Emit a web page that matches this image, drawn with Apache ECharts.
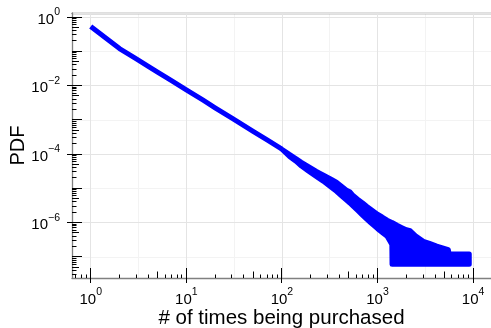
<!DOCTYPE html>
<html><head><meta charset="utf-8">
<script src="https://cdn.jsdelivr.net/npm/echarts@6/dist/echarts.min.js"></script>
<style>html,body{margin:0;padding:0;background:#fff}#c{width:491px;height:328px}</style>
</head><body><div id="c"></div>
<script>
// ---- data ----
// smooth head of the distribution
const headX   = [1, 2, 3, 4, 5, 7, 10, 15, 20, 30, 50, 70, 100];
const headPDF = [0.525, 0.120, 0.0603, 0.0363, 0.0245, 0.0138, 0.00741, 0.00372, 0.00224, 0.00112, 4.57e-4, 2.57e-4, 1.38e-4];
// noisy tail: upper and lower envelope of the scattered PDF values
const bandX  = [100, 120, 140, 160, 190, 230, 270, 320, 372, 420,
  470, 513, 560, 620, 700, 776, 850, 1000, 1120, 1260,
  1413, 1420, 1600, 1800, 2000, 2200, 2500, 3020, 3500, 4170,
  5500, 5620, 9120];
const bandHi = [1.38e-4, 9.77e-5, 7.41e-5, 5.75e-5, 4.27e-5, 3.09e-5, 2.45e-5, 1.91e-5, 1.51e-5, 1.15e-5,
  8.91e-6, 7.94e-6, 6.03e-6, 4.79e-6, 3.72e-6, 2.95e-6, 2.45e-6, 1.74e-6, 1.45e-6, 1.17e-6,
  1.0e-6, 1.0e-6, 8.32e-7, 7.08e-7, 6.17e-7, 5.75e-7, 4.07e-7, 2.82e-7, 2.45e-7, 2.04e-7,
  1.62e-7, 1.2e-7, 1.2e-7];
const bandLo = [1.38e-4, 8.51e-5, 6.17e-5, 4.47e-5, 3.16e-5, 2.19e-5, 1.62e-5, 1.12e-5, 8.13e-6, 6.03e-6,
  4.57e-6, 3.72e-6, 2.95e-6, 2.24e-6, 1.62e-6, 1.23e-6, 9.77e-7, 6.61e-7, 5.13e-7, 3.98e-7,
  2.29e-7, 6.0e-8, 6.0e-8, 6.0e-8, 6.0e-8, 6.0e-8, 6.0e-8, 6.0e-8, 6.0e-8, 6.0e-8,
  6.0e-8, 6.0e-8, 6.0e-8];
const xTitle = '# of times being purchased';
const yTitle = 'PDF';
const xTickExps = [0, 1, 2, 3, 4];
const yTickExps = [0, -1, -2, -3, -4, -5, -6, -7];
const minorDigits = [2, 3, 4, 5, 6, 7, 8, 9];

// ---- axis ranges ----
const X_MIN = 0.637, X_MAX = 15400;
const Y_MIN = 2.4e-8, Y_MAX = 1.31;
const FONT = 'Liberation Sans';
const BLUE = '#0000ff';

const lineData = headX.map((x, i) => [x, headPDF[i]]);
const bandData = bandX.map((x, i) => [x, bandHi[i], bandLo[i]]);

// tick marks: [x, y, lenIn, lenOut]
const xTicks = [];
xTickExps.forEach(e => xTicks.push([Math.pow(10, e), 1, 10, 5]));
for (let e = -1; e <= 4; e++) minorDigits.forEach(d => {
  const v = d * Math.pow(10, e);
  if (v > X_MIN && v < X_MAX) xTicks.push([v, 1, d === 5 ? 6.5 : 3.5, 0]);
});
const yTicks = [];
yTickExps.forEach(e => yTicks.push([1, Math.pow(10, e), 10, e % 2 === 0 ? 5 : 0]));
for (let e = -8; e <= 0; e++) minorDigits.forEach(d => {
  const v = d * Math.pow(10, e);
  if (v > Y_MIN && v < Y_MAX) yTicks.push([1, v, d === 5 ? 7 : 4.5, 0]);
});

function supLabel(v) {
  const l = Math.log10(v), n = Math.round(l);
  if (Math.abs(l - n) > 1e-6) return '';
  return '{b|10}{s|' + String(n).replace('-', '\u2212') + '}';
}
const rich = {
  b: { fontSize: 15, fontFamily: FONT, color: '#000', verticalAlign: 'bottom', lineHeight: 20 },
  s: { fontSize: 10.5, fontFamily: FONT, color: '#000', verticalAlign: 'top', lineHeight: 20 }
};
const frame = { show: true, lineStyle: { color: '#808080', width: 1.3 } };

const chart = echarts.init(document.getElementById('c'), null, { renderer: 'canvas' });
chart.setOption({
  animation: false,
  backgroundColor: '#fff',
  grid: { left: 72, right: 0, top: 13, bottom: 50, containLabel: false, outerBoundsMode: 'none' },
  xAxis: [
    { type: 'log', logBase: 10, min: X_MIN, max: X_MAX, position: 'bottom', z: 1,
      axisLine: frame, axisTick: { show: false },
      splitLine: { show: true, lineStyle: { color: '#e4e4e4', width: 1 } },
      axisLabel: { formatter: supLabel, rich: rich, margin: 9, showMinLabel: false, showMaxLabel: false },
      name: xTitle, nameLocation: 'middle', nameGap: 30, nameMoveOverlap: false,
      nameTextStyle: { fontFamily: FONT, fontSize: 20.5, color: '#000' } },
    { type: 'log', logBase: Math.sqrt(10), min: X_MIN, max: X_MAX, position: 'top', z: 0,
      axisLine: frame, axisTick: { show: false }, axisLabel: { show: false },
      splitLine: { show: true, lineStyle: { color: '#f3f3f3', width: 1 } } }
  ],
  yAxis: [
    { type: 'log', logBase: 100, min: Y_MIN, max: Y_MAX, position: 'left', z: 1,
      axisLine: frame, axisTick: { show: false },
      splitLine: { show: true, lineStyle: { color: '#e4e4e4', width: 1 } },
      axisLabel: { formatter: supLabel, rich: rich, margin: 12, showMinLabel: false, showMaxLabel: false },
      name: yTitle, nameLocation: 'middle', nameGap: 44, nameRotate: 90, nameMoveOverlap: false,
      nameTextStyle: { fontFamily: FONT, fontSize: 20, color: '#000' } },
    { type: 'log', logBase: 10, min: Y_MIN, max: Y_MAX, position: 'right', z: 0,
      axisLine: { show: false }, axisTick: { show: false }, axisLabel: { show: false },
      splitLine: { show: true, lineStyle: { color: '#f3f3f3', width: 1 } } }
  ],
  series: [
    { type: 'line', xAxisIndex: 0, yAxisIndex: 0, data: lineData, showSymbol: false, symbol: 'none',
      lineStyle: { color: BLUE, width: 5, join: 'round', cap: 'butt' }, z: 2, silent: true },
    { type: 'custom', name: 'tail', xAxisIndex: 0, yAxisIndex: 0, data: bandData, z: 2, silent: true,
      renderItem: function (params, api) {
        if (params.dataIndex !== 0) return null;
        const upper = bandData.map(d => api.coord([d[0], d[1]]));
        const lower = bandData.map(d => api.coord([d[0], d[2]])).reverse();
        return { type: 'polygon', shape: { points: upper.concat(lower) },
          style: { fill: BLUE, stroke: BLUE, lineWidth: 5, lineJoin: 'round' } };
      } },
    { type: 'custom', xAxisIndex: 0, yAxisIndex: 0, data: xTicks, z: 5, clip: false, silent: true,
      renderItem: function (params, api) {
        const cs = params.coordSys;
        const px = Math.round(api.coord([api.value(0), 1])[0] - 0.5) + 0.5;
        const y0 = cs.y + cs.height;
        return { type: 'line', shape: { x1: px, y1: y0 + api.value(3), x2: px, y2: y0 - api.value(2) },
          style: { stroke: '#000', lineWidth: 1 } };
      } },
    { type: 'custom', xAxisIndex: 0, yAxisIndex: 0, data: yTicks, z: 5, clip: false, silent: true,
      renderItem: function (params, api) {
        const cs = params.coordSys;
        const py = Math.round(api.coord([1, api.value(1)])[1] - 0.5) + 0.5;
        const x0 = cs.x;
        return { type: 'line', shape: { x1: x0 - api.value(3), y1: py, x2: x0 + api.value(2), y2: py },
          style: { stroke: '#000', lineWidth: 1 } };
      } }
  ]
});
</script></body></html>
